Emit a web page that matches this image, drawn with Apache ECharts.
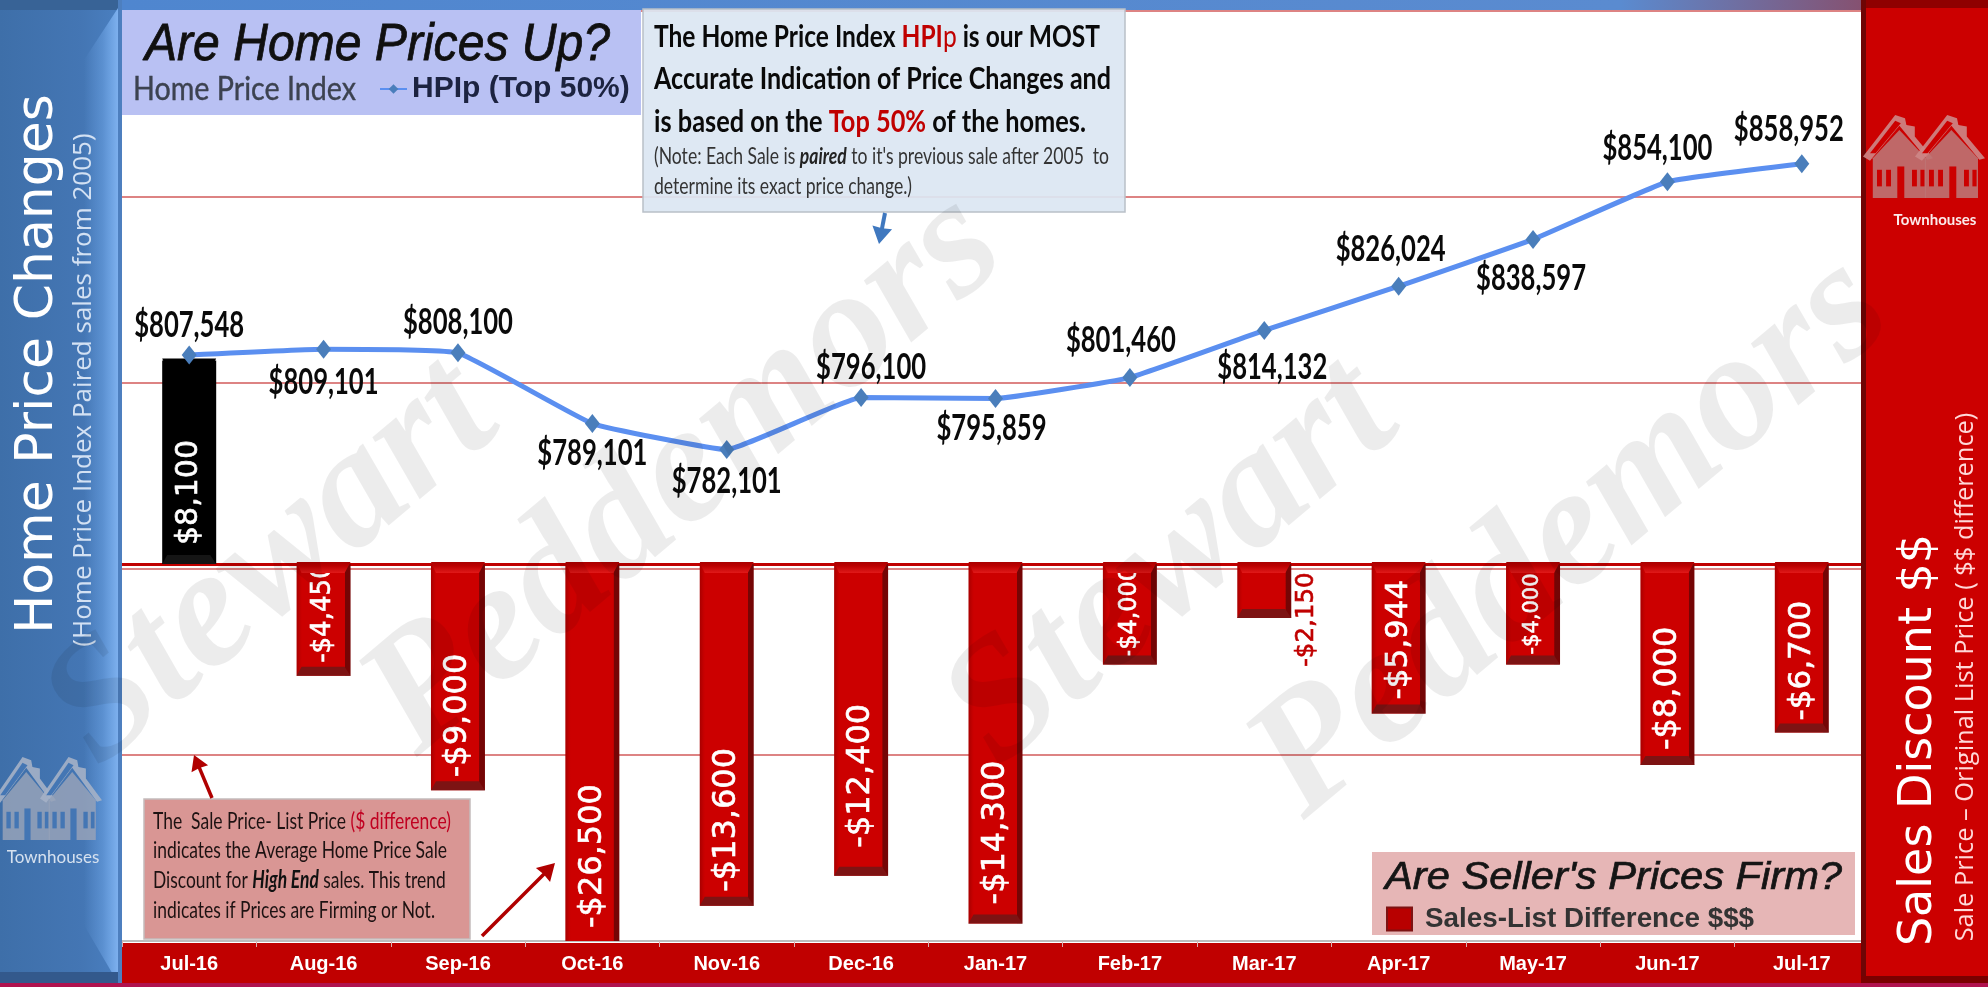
<!DOCTYPE html>
<html><head><meta charset="utf-8">
<style>html,body{margin:0;padding:0;background:#fff}#c{width:1988px;height:987px}</style>
<script src="https://cdn.jsdelivr.net/npm/echarts@6/dist/echarts.min.js"></script>
</head><body><div id="c"></div>
<script>
const categories=['Jul-16','Aug-16','Sep-16','Oct-16','Nov-16','Dec-16','Jan-17','Feb-17','Mar-17','Apr-17','May-17','Jun-17','Jul-17'];
const hpipValues=[807548,809101,808100,789101,782101,796100,795859,801460,814132,826024,838597,854100,858952];
const discountValues=[8100,-4450,-9000,-26500,-13600,-12400,-14300,-4000,-2150,-5944,-4000,-8000,-6700];

const hpipLabelOffsets=[[0,-30],[0,33],[0,-30],[0,30],[0,32],[10,-30],[-4,30],[-9,-37],[8,37],[-8,-37],[-2,39],[-10,-33],[-13,-34]];
const barLabelFont=[30,26,32,32,32,32,32,24,24.5,31,21,32,31];
const barLabelGap=[19,13,13,13,14,28,19,6,0,14,10,15,12];

const LATO='Lato,sans-serif';
const SANS='"Liberation Sans",sans-serif';
const DEJA='"DejaVu Sans",sans-serif';
const money=v=>(v<0?'-$':'$')+Math.abs(v).toLocaleString('en-US');
const hGrad=(stops)=>({type:'linear',x:0,y:0,x2:1,y2:0,colorStops:stops.map(s=>({offset:s[0],color:s[1]}))});
const vGrad=(stops)=>({type:'linear',x:0,y:0,x2:0,y2:1,colorStops:stops.map(s=>({offset:s[0],color:s[1]}))});
const barFill=hGrad([[0,'#a80000'],[.07,'#c40000'],[.1,'#cc0000'],[.89,'#cc0000'],[.9,'#750505'],[1,'#750505']]);

const mctx=document.createElement('canvas').getContext('2d');
function fit(text,font,w){mctx.font=font;return w/mctx.measureText(text).width;}

function poly(pts,style,z){return {type:'polygon',z:z,silent:true,shape:{points:pts},style:style};}
function rect(x,y,w,h,fill,z,extra){return {type:'rect',z:z,silent:true,shape:{x,y,width:w,height:h},style:Object.assign({fill},extra||{})};}
function txt(x,y,text,font,fill,z,extra,target){
  const e={type:'text',x,y,z,silent:true,style:Object.assign({text,font,fill,align:'left',verticalAlign:'middle'},extra||{})};
  if(target)e.scaleX=fit(text,font,target);
  return e;
}
function rtxt(x,y,parts,z,target){
  let text='',plain='',rich={},wfont=parts[0][1];
  parts.forEach((p,i)=>{const k='s'+i;text+='{'+k+'|'+p[0]+'}';plain+=p[0];rich[k]={font:p[1],fill:p[2]};});
  return {type:'text',x,y,z,silent:true,scaleX:fit(plain,wfont,target),style:{text,rich,align:'left',verticalAlign:'middle'}};
}
function vtxt(x,y,text,font,fill,z){return {type:'text',x,y,z,silent:true,rotation:Math.PI/2,style:{text,font,fill,align:'center',verticalAlign:'middle'}};}
function line(pts,color,w,z){return {type:'polyline',z,silent:true,shape:{points:pts},style:{stroke:color,lineWidth:w,fill:null}};}
function arrow(x1,y1,x2,y2,color,w,len,hw,z){
  const a=Math.atan2(y2-y1,x2-x1),c=Math.cos(a),s=Math.sin(a);
  const bx=x2-c*len,by=y2-s*len;
  return [line([[x1,y1],[bx+c*7,by+s*7]],color,w,z),
    poly([[x2,y2],[bx-s*hw-c*(-3),by+c*hw-s*(-3)],[bx+c*4,by+s*4],[bx+s*hw+c*3,by-c*hw+s*3]],{fill:color},z)];
}
function house(ox,oy,w,h,fill,edge,bg,z){
  const P=p=>p.map(q=>[ox+q[0]*w,oy+q[1]*h]);
  const out=[];
  out.push(poly(P([[.14,.52],[.52,.18],[.9,.52],[.9,1],[.14,1]]),{fill},z));
  out.push(poly(P([[0,.5],[.46,0],[.6,.04],[.62,.12],[.74,.14],[.74,.26],[1,.52],[.92,.54],[.52,.13],[.1,.55]]),{fill:edge},z));
  out.push(poly(P([[.1,.46],[.46,.07],[.54,.1],[.18,.46]]),{fill:bg},z));
  [[.2,.66,.07,.2],[.33,.66,.07,.2],[.7,.66,.07,.2],[.82,.66,.06,.2],[.49,.62,.1,.38]].forEach(r=>{
    out.push(rect(ox+r[0]*w,oy+r[1]*h,r[2]*w,r[3]*h,bg,z));});
  return out;
}

const bluePanel=[
  rect(0,0,118,983,hGrad([[0,'#3e6fa9'],[.7,'#4476b4'],[1,'#4a7fc0']]),1),
  rect(0,0,118,10,'#386396',1),
  poly([[84,60],[118,8],[118,983],[84,925]],{fill:hGrad([[0,'rgba(120,175,240,0)'],[.55,'rgba(120,175,240,.4)'],[1,'#7db0ee']])},1),
  rect(0,972,118,11,'#33598c',1),
  rect(118,0,4,983,'#4d7fbf',1),
  vtxt(38,364,'Home Price Changes','52px '+DEJA,'#ffffff',1),
  vtxt(84,390,'(Home Price Index Paired sales from 2005)','26px "Open Sans",sans-serif','#d3e1f3',1),
  txt(53,858,'Townhouses','17px '+LATO,'#d6e1ef',1,{align:'center'})
].concat(house(-6,757,62,83,'rgba(150,162,184,.85)','rgba(165,177,198,.9)','#4476b4',1),
         house(40,757,62,83,'rgba(150,162,184,.85)','rgba(165,177,198,.9)','#4476b4',1));

const redPanel=[
  rect(1861,0,127,984,'#cc0000',1),
  rect(1861,0,5,984,'#6f0505',1),
  rect(1866,0,122,8,'#8f0000',1),
  rect(1861,976,127,8,'#7a0000',1),
  vtxt(1919,740,'Sales Discount $$','46px '+DEJA,'#ffffff',1),
  vtxt(1966,677,'Sale Price – Original List Price ( $$ difference)','25.4px "Open Sans",sans-serif','#ffd9d9',1),
  txt(1935,220,'Townhouses','bold 15px '+LATO,'#fbeaea',1,{align:'center'})
].concat(house(1863,115,70,83,'rgba(190,115,115,.9)','rgba(205,135,135,.9)','#cc0000',1),
         house(1915,115,70,83,'rgba(190,115,115,.9)','rgba(205,135,135,.9)','#cc0000',1));

const frame=[
  rect(118,0,1747,10,hGrad([[0,'#4f86cf'],[.86,'#5a8bd0'],[1,'#86506f']]),1),
  rect(122,943,1741,41,'#c00000',-1),
  rect(0,983,1988,4,'#b0124e',5),
  line([[121,565],[121,942]],'#c00000',2,1)
];

const MAIN='bold 31px '+LATO, NOTE='23px '+LATO, NOTEI='italic bold 23px '+LATO, RB='24px '+LATO, RBI='italic bold 24px '+LATO;
const boxes=[
  rect(122,10,519,105,'#b9c1f3',3),
  txt(145,46,'Are Home Prices Up?','italic 52px '+SANS,'#101010',3,{stroke:'#101010',lineWidth:.8},465),
  txt(133,89,'Home Price Index','33px '+LATO,'#3c4250',3,{stroke:'#3c4250',lineWidth:.4},223),
  rect(643,9,482,203,'rgba(220,230,242,.93)',3,{stroke:'#b9c0c8',lineWidth:1.5}),
  rtxt(654,37,[['The Home Price Index ',MAIN,'#0a0a0a'],['HPI',MAIN,'#c00000'],['p','31px '+LATO,'#c00000'],[' is our MOST',MAIN,'#0a0a0a']],3,446),
  txt(654,79,'Accurate Indication of Price Changes and',MAIN,'#0a0a0a',3,null,457),
  rtxt(654,122,[['is based on the ',MAIN,'#0a0a0a'],['Top 50%',MAIN,'#c00000'],[' of the homes.',MAIN,'#0a0a0a']],3,432),
  rtxt(654,157,[['(Note: Each Sale is ',NOTE,'#333'],['paired',NOTEI,'#222'],[" to it's previous sale after 2005  to",NOTE,'#333']],3,456),
  txt(654,187,'determine its exact price change.)',NOTE,'#333',3,null,258),
  rect(144,799,326,140,'#d99694',3,{stroke:'#c4bcbc',lineWidth:1.5}),
  rtxt(153,821,[['The  Sale Price- List Price ',RB,'#1d1212'],['($ difference)',RB,'#c00020']],3,298),
  txt(153,850,'indicates the Average Home Price Sale',RB,'#1d1212',3,null,294),
  rtxt(153,880,[['Discount for ',RB,'#1d1212'],['High End',RBI,'#111'],[' sales. This trend',RB,'#1d1212']],3,296),
  txt(153,910,'indicates if Prices are Firming or Not.',RB,'#1d1212',3,null,282),
  rect(1372,852,483,83,'#e6b6b6',3),
  txt(1385,878,"Are Seller's Prices Firm?",'italic 38px '+SANS,'#151515',3,{stroke:'#151515',lineWidth:.7},457)
].concat(
  arrow(885,213,879,244,'#3f78bf',4,20,10,3),
  arrow(212,798,194,755,'#b00000',3.5,18,9,3),
  arrow(482,936,555,863,'#b00000',3.5,20,10,3)
);

const watermark=[
  ['Stewart',273,565],['Peddemors',685,475],['Stewart',1173,565],['Peddemors',1572,538]
].map(w=>({type:'text',x:w[1],y:w[2],z:20,silent:true,rotation:40*Math.PI/180,
  style:{text:w[0],font:'italic bold 170px "Liberation Serif",serif',fill:'rgba(0,0,0,.075)',align:'center',verticalAlign:'middle'}}));

const bevel=function(params,api){
  const i=api.value(0),v=api.value(1);
  const cs=params.coordSys;
  const bw=api.size([1,0])[0]*54/134.4;
  const p0=api.coord([i,0]),p1=api.coord([i,v]);
  const L=p0[0]-bw/2,R=p0[0]+bw/2,k=[];
  const top=Math.min(p0[1],p1[1]),rawBot=Math.max(p0[1],p1[1]);
  const bot=Math.min(rawBot,cs.y+cs.height),clipped=rawBot>cs.y+cs.height;
  const dark=v>0;
  k.push({type:'polygon',shape:{points:[[L,top-2],[R,top-2],[R-6,top+9],[L+5,top+9]]},
    style:{fill:dark?'#000000':vGrad([[0,'#a80000'],[.35,'#bb0000'],[1,'#e11919']])}});
  if(!clipped)k.push({type:'polygon',shape:{points:[[L+5,bot-9],[R-6,bot-9],[R,bot],[L,bot]]},
    style:{fill:dark?'#151515':'#7d1313'}});
  return {type:'group',children:k};
};
const hpipLabel=function(params,api){
  const i=api.value(0),v=api.value(1);
  const p=api.coord([i,v]),o=hpipLabelOffsets[i],text=money(v),font='bold 36px '+LATO;
  return {type:'text',x:p[0]+o[0],y:p[1]+o[1],scaleX:fit(text,font,110),
    style:{text,font,fill:'#0a0a0a',align:'center',verticalAlign:'middle'}};
};

const option={
  backgroundColor:'#ffffff',animation:false,
  textStyle:{fontFamily:SANS},
  grid:{left:122,top:11,width:1747,height:930,containLabel:false},
  legend:[
    {data:['HPIp (Top 50%)'],left:379,top:74,itemWidth:27,itemHeight:12,itemGap:4,selectedMode:false,padding:0,z:6,
     textStyle:{fontFamily:SANS,fontWeight:'bold',fontSize:30,color:'#1c2340'}},
    {data:[{name:'Sales-List Difference $$$',icon:'rect',itemStyle:{color:'#b80000',borderColor:'#7d1313',borderWidth:2}}],left:1386,top:905,itemWidth:25,itemHeight:23,itemGap:14,selectedMode:false,padding:0,z:6,
     textStyle:{fontFamily:SANS,fontWeight:'bold',fontSize:27.8,color:'#333',padding:[0,0,0,8]}}
  ],
  xAxis:[
    {type:'category',data:categories,position:'bottom',
     axisLine:{onZero:false,lineStyle:{color:'#bdbdbd',width:2}},
     axisTick:{show:true,length:6,lineStyle:{color:'#d8b0b0',width:1}},
     axisLabel:{color:'#fff',fontFamily:SANS,fontWeight:'bold',fontSize:20,margin:13},splitLine:{show:false}},
    {type:'category',data:categories,position:'top',
     axisLine:{show:true,onZero:true,onZeroAxisIndex:1,lineStyle:{color:'#c00000',width:3}},
     axisTick:{show:false},axisLabel:{show:false},splitLine:{show:false}}
  ],
  yAxis:[
    {type:'value',min:650000,max:900000,interval:50000,axisLabel:{show:false},axisLine:{show:false},axisTick:{show:false},
     splitLine:{show:true,lineStyle:{color:'#d25a5a',width:1.6}}},
    {type:'value',min:-15000,max:22000,axisLabel:{show:false},axisLine:{show:false},axisTick:{show:false},splitLine:{show:false}}
  ],
  series:[
    {name:'Sales-List Difference $$$',type:'bar',xAxisIndex:0,yAxisIndex:1,barWidth:54,z:2,
     itemStyle:{color:barFill},
     data:discountValues.map((v,i)=>({
       value:v,
       itemStyle:{color:v>0?'#000000':barFill},
       label:{show:true,position:'insideBottom',distance:barLabelGap[i],rotate:90,align:'left',verticalAlign:'middle',
         fontFamily:DEJA,fontSize:barLabelFont[i],color:i===8?'#c00000':'#ffffff',
         textBorderColor:i===8?'#c00000':'#ffffff',textBorderWidth:.6,
         offset:i===8?[-49,42]:[0,0],formatter:()=>money(v)}
     }))},
    {type:'custom',coordinateSystem:'cartesian2d',xAxisIndex:0,yAxisIndex:1,z:3,silent:true,renderItem:bevel,encode:{x:0,y:1},
     data:discountValues.map((v,i)=>[i,v])},
    {name:'HPIp (Top 50%)',type:'line',xAxisIndex:0,yAxisIndex:0,z:4,smooth:.1,
     lineStyle:{color:'#5b8ff0',width:5},itemStyle:{color:'#4a7ebb'},symbol:'diamond',symbolSize:[15,19],showAllSymbol:true,
     data:hpipValues},
    {type:'custom',coordinateSystem:'cartesian2d',xAxisIndex:0,yAxisIndex:0,z:5,silent:true,renderItem:hpipLabel,encode:{x:0,y:1},
     data:hpipValues.map((v,i)=>[i,v])}
  ],
  graphic:{elements:[].concat(frame,bluePanel,redPanel,boxes,watermark)}
};
const chart=echarts.init(document.getElementById('c'),null,{renderer:'canvas',width:1988,height:987});
chart.setOption(option);
</script></body></html>
